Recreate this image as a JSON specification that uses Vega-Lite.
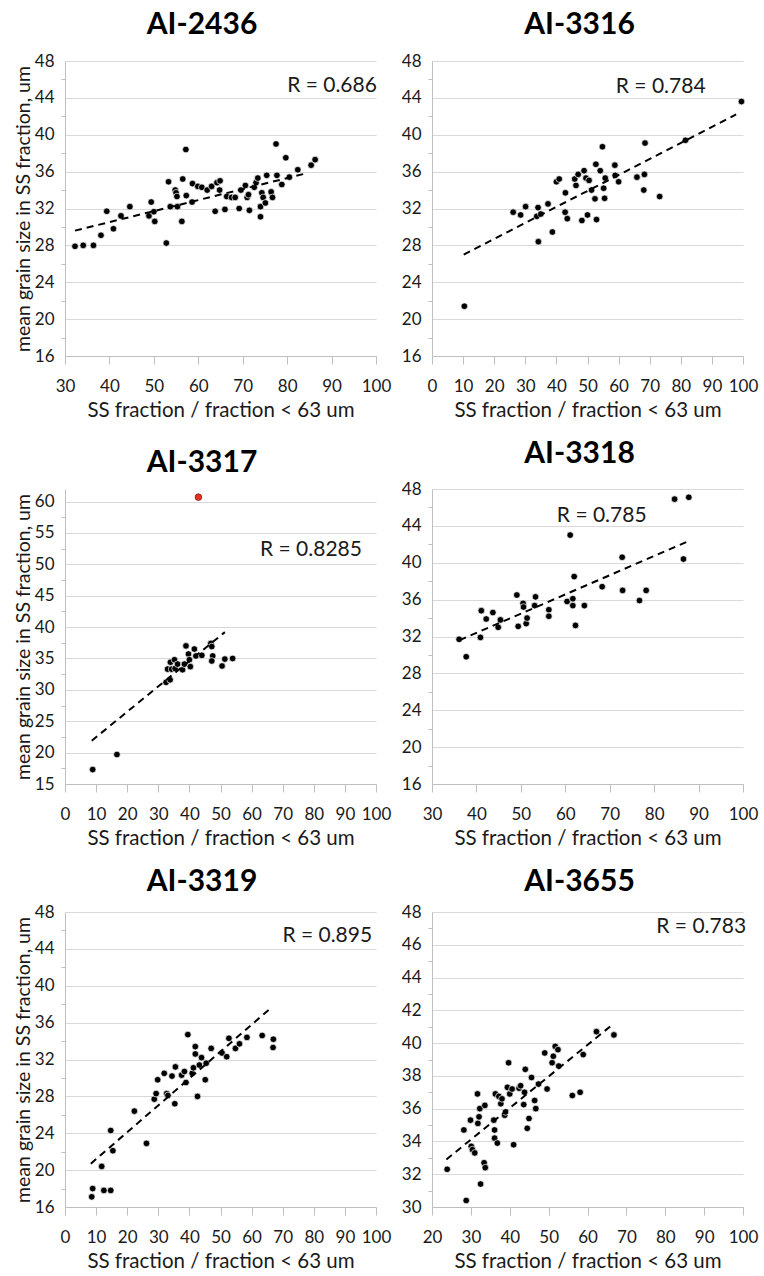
{
"$schema": "https://vega.github.io/schema/vega-lite/v6.json",
"padding": {"left": 13, "top": 10, "right": 5, "bottom": 5},
"background": "#ffffff",
"datasets": {
"pts": [
{"p":"AI-2436","x":32.25,"y":27.9},{"p":"AI-2436","x":34.1,"y":28.0},{"p":"AI-2436","x":36.4,"y":28.0},{"p":"AI-2436","x":38.1,"y":29.1},{"p":"AI-2436","x":39.4,"y":31.7},{"p":"AI-2436","x":40.9,"y":29.8},{"p":"AI-2436","x":42.6,"y":31.2},{"p":"AI-2436","x":44.6,"y":32.2},{"p":"AI-2436","x":48.9,"y":31.2},{"p":"AI-2436","x":49.4,"y":32.7},{"p":"AI-2436","x":50.0,"y":31.65},{"p":"AI-2436","x":50.2,"y":30.6},{"p":"AI-2436","x":52.8,"y":28.25},{"p":"AI-2436","x":53.3,"y":34.9},{"p":"AI-2436","x":53.7,"y":32.2},{"p":"AI-2436","x":54.8,"y":34.0},{"p":"AI-2436","x":55.0,"y":33.7},{"p":"AI-2436","x":55.3,"y":32.2},{"p":"AI-2436","x":55.2,"y":33.3},{"p":"AI-2436","x":56.3,"y":30.6},{"p":"AI-2436","x":56.5,"y":35.2},{"p":"AI-2436","x":57.2,"y":38.4},{"p":"AI-2436","x":57.3,"y":33.4},{"p":"AI-2436","x":58.6,"y":32.7},{"p":"AI-2436","x":58.7,"y":34.7},{"p":"AI-2436","x":59.9,"y":34.4},{"p":"AI-2436","x":60.8,"y":34.3},{"p":"AI-2436","x":62.0,"y":34.0},{"p":"AI-2436","x":63.0,"y":34.4},{"p":"AI-2436","x":63.8,"y":31.7},{"p":"AI-2436","x":64.2,"y":34.8},{"p":"AI-2436","x":64.9,"y":35.0},{"p":"AI-2436","x":64.8,"y":34.0},{"p":"AI-2436","x":66.0,"y":31.9},{"p":"AI-2436","x":66.4,"y":33.3},{"p":"AI-2436","x":67.5,"y":33.2},{"p":"AI-2436","x":68.3,"y":33.2},{"p":"AI-2436","x":69.2,"y":32.0},{"p":"AI-2436","x":69.6,"y":34.0},{"p":"AI-2436","x":70.6,"y":34.5},{"p":"AI-2436","x":71.0,"y":33.2},{"p":"AI-2436","x":71.5,"y":31.8},{"p":"AI-2436","x":71.3,"y":33.5},{"p":"AI-2436","x":72.6,"y":34.3},{"p":"AI-2436","x":73.0,"y":34.8},{"p":"AI-2436","x":73.4,"y":35.3},{"p":"AI-2436","x":74.0,"y":31.1},{"p":"AI-2436","x":74.0,"y":32.2},{"p":"AI-2436","x":74.3,"y":33.7},{"p":"AI-2436","x":74.6,"y":33.2},{"p":"AI-2436","x":75.1,"y":32.6},{"p":"AI-2436","x":75.4,"y":35.6},{"p":"AI-2436","x":76.4,"y":33.8},{"p":"AI-2436","x":76.7,"y":33.2},{"p":"AI-2436","x":77.5,"y":39.0},{"p":"AI-2436","x":77.7,"y":35.6},{"p":"AI-2436","x":78.8,"y":34.6},{"p":"AI-2436","x":79.7,"y":37.5},{"p":"AI-2436","x":80.5,"y":35.4},{"p":"AI-2436","x":82.4,"y":36.2},{"p":"AI-2436","x":85.4,"y":36.7},{"p":"AI-2436","x":86.3,"y":37.3},
{"p":"AI-3316","x":10.4,"y":21.4},{"p":"AI-3316","x":26.1,"y":31.6},{"p":"AI-3316","x":28.5,"y":31.3},{"p":"AI-3316","x":30.1,"y":32.2},{"p":"AI-3316","x":33.7,"y":31.15},{"p":"AI-3316","x":34.1,"y":32.1},{"p":"AI-3316","x":34.2,"y":28.4},{"p":"AI-3316","x":35.0,"y":31.4},{"p":"AI-3316","x":37.3,"y":32.5},{"p":"AI-3316","x":38.7,"y":29.45},{"p":"AI-3316","x":40.0,"y":34.9},{"p":"AI-3316","x":40.9,"y":35.2},{"p":"AI-3316","x":42.8,"y":31.6},{"p":"AI-3316","x":42.9,"y":33.7},{"p":"AI-3316","x":43.5,"y":30.9},{"p":"AI-3316","x":45.9,"y":35.2},{"p":"AI-3316","x":46.3,"y":34.5},{"p":"AI-3316","x":47.0,"y":35.7},{"p":"AI-3316","x":48.2,"y":30.7},{"p":"AI-3316","x":48.9,"y":36.1},{"p":"AI-3316","x":49.5,"y":35.3},{"p":"AI-3316","x":50.0,"y":31.3},{"p":"AI-3316","x":50.5,"y":35.05},{"p":"AI-3316","x":51.3,"y":34.0},{"p":"AI-3316","x":52.4,"y":33.05},{"p":"AI-3316","x":52.7,"y":36.8},{"p":"AI-3316","x":52.9,"y":30.8},{"p":"AI-3316","x":54.1,"y":36.1},{"p":"AI-3316","x":54.8,"y":38.7},{"p":"AI-3316","x":55.2,"y":34.2},{"p":"AI-3316","x":55.5,"y":33.1},{"p":"AI-3316","x":55.7,"y":35.3},{"p":"AI-3316","x":58.8,"y":36.7},{"p":"AI-3316","x":58.9,"y":35.6},{"p":"AI-3316","x":60.0,"y":34.9},{"p":"AI-3316","x":65.9,"y":35.4},{"p":"AI-3316","x":68.3,"y":35.7},{"p":"AI-3316","x":68.1,"y":34.0},{"p":"AI-3316","x":68.5,"y":39.1},{"p":"AI-3316","x":73.2,"y":33.3},{"p":"AI-3316","x":81.5,"y":39.4},{"p":"AI-3316","x":99.5,"y":43.6},
{"p":"AI-3317","x":42.9,"y":60.7,"k":"red"},{"p":"AI-3317","x":8.9,"y":17.3},{"p":"AI-3317","x":16.7,"y":19.7},{"p":"AI-3317","x":32.5,"y":31.2},{"p":"AI-3317","x":33.8,"y":31.6},{"p":"AI-3317","x":33.0,"y":33.3},{"p":"AI-3317","x":33.9,"y":34.4},{"p":"AI-3317","x":34.3,"y":33.3},{"p":"AI-3317","x":35.2,"y":34.8},{"p":"AI-3317","x":35.4,"y":33.4},{"p":"AI-3317","x":36.2,"y":34.1},{"p":"AI-3317","x":37.8,"y":33.2},{"p":"AI-3317","x":38.4,"y":34.1},{"p":"AI-3317","x":38.9,"y":37.0},{"p":"AI-3317","x":39.7,"y":35.7},{"p":"AI-3317","x":40.0,"y":34.8},{"p":"AI-3317","x":40.3,"y":33.7},{"p":"AI-3317","x":41.6,"y":36.5},{"p":"AI-3317","x":42.1,"y":35.4},{"p":"AI-3317","x":44.0,"y":35.5},{"p":"AI-3317","x":46.9,"y":37.4},{"p":"AI-3317","x":47.2,"y":36.9},{"p":"AI-3317","x":47.5,"y":35.4},{"p":"AI-3317","x":47.2,"y":34.6},{"p":"AI-3317","x":50.5,"y":33.8},{"p":"AI-3317","x":51.4,"y":34.9},{"p":"AI-3317","x":53.9,"y":35.0},
{"p":"AI-3318","x":36.1,"y":31.7},{"p":"AI-3318","x":37.7,"y":29.8},{"p":"AI-3318","x":40.9,"y":31.9},{"p":"AI-3318","x":41.1,"y":34.8},{"p":"AI-3318","x":42.2,"y":33.9},{"p":"AI-3318","x":43.7,"y":34.6},{"p":"AI-3318","x":44.9,"y":33.0},{"p":"AI-3318","x":45.4,"y":33.8},{"p":"AI-3318","x":49.1,"y":36.5},{"p":"AI-3318","x":49.4,"y":33.1},{"p":"AI-3318","x":50.5,"y":35.6},{"p":"AI-3318","x":50.6,"y":35.2},{"p":"AI-3318","x":51.2,"y":33.4},{"p":"AI-3318","x":51.4,"y":34.0},{"p":"AI-3318","x":53.3,"y":36.3},{"p":"AI-3318","x":53.1,"y":35.35},{"p":"AI-3318","x":56.3,"y":34.9},{"p":"AI-3318","x":56.3,"y":34.2},{"p":"AI-3318","x":60.4,"y":35.8},{"p":"AI-3318","x":61.1,"y":43.0},{"p":"AI-3318","x":61.7,"y":36.1},{"p":"AI-3318","x":61.7,"y":35.35},{"p":"AI-3318","x":62.0,"y":38.5},{"p":"AI-3318","x":62.3,"y":33.2},{"p":"AI-3318","x":64.3,"y":35.35},{"p":"AI-3318","x":68.3,"y":37.4},{"p":"AI-3318","x":72.8,"y":40.6},{"p":"AI-3318","x":72.9,"y":37.0},{"p":"AI-3318","x":76.7,"y":35.9},{"p":"AI-3318","x":78.2,"y":37.0},{"p":"AI-3318","x":84.6,"y":46.9},{"p":"AI-3318","x":86.6,"y":40.4},{"p":"AI-3318","x":87.8,"y":47.1},
{"p":"AI-3319","x":8.6,"y":17.1},{"p":"AI-3319","x":8.9,"y":18.0},{"p":"AI-3319","x":11.8,"y":20.4},{"p":"AI-3319","x":12.5,"y":17.8},{"p":"AI-3319","x":14.7,"y":17.8},{"p":"AI-3319","x":14.7,"y":24.3},{"p":"AI-3319","x":15.4,"y":22.1},{"p":"AI-3319","x":22.3,"y":26.4},{"p":"AI-3319","x":26.2,"y":22.9},{"p":"AI-3319","x":28.7,"y":27.7},{"p":"AI-3319","x":29.3,"y":28.3},{"p":"AI-3319","x":29.8,"y":29.8},{"p":"AI-3319","x":31.9,"y":30.5},{"p":"AI-3319","x":32.7,"y":28.3},{"p":"AI-3319","x":33.1,"y":28.1},{"p":"AI-3319","x":34.4,"y":30.2},{"p":"AI-3319","x":35.3,"y":27.2},{"p":"AI-3319","x":35.5,"y":31.2},{"p":"AI-3319","x":37.5,"y":30.3},{"p":"AI-3319","x":38.4,"y":30.7},{"p":"AI-3319","x":38.9,"y":29.5},{"p":"AI-3319","x":39.5,"y":34.7},{"p":"AI-3319","x":40.9,"y":30.5},{"p":"AI-3319","x":41.3,"y":31.1},{"p":"AI-3319","x":41.9,"y":33.4},{"p":"AI-3319","x":41.9,"y":32.6},{"p":"AI-3319","x":42.6,"y":28.0},{"p":"AI-3319","x":43.2,"y":31.4},{"p":"AI-3319","x":43.9,"y":32.2},{"p":"AI-3319","x":45.1,"y":29.8},{"p":"AI-3319","x":45.4,"y":31.6},{"p":"AI-3319","x":47.0,"y":33.2},{"p":"AI-3319","x":50.5,"y":32.7},{"p":"AI-3319","x":52.0,"y":32.3},{"p":"AI-3319","x":52.7,"y":34.3},{"p":"AI-3319","x":54.8,"y":33.2},{"p":"AI-3319","x":56.1,"y":33.7},{"p":"AI-3319","x":58.5,"y":34.4},{"p":"AI-3319","x":63.4,"y":34.6},{"p":"AI-3319","x":66.9,"y":33.3},{"p":"AI-3319","x":67.0,"y":34.2},
{"p":"AI-3655","x":23.9,"y":32.3},{"p":"AI-3655","x":28.2,"y":34.7},{"p":"AI-3655","x":28.8,"y":30.4},{"p":"AI-3655","x":29.9,"y":35.3},{"p":"AI-3655","x":30.1,"y":33.7},{"p":"AI-3655","x":30.4,"y":33.5},{"p":"AI-3655","x":31.0,"y":33.3},{"p":"AI-3655","x":31.7,"y":36.9},{"p":"AI-3655","x":31.8,"y":35.1},{"p":"AI-3655","x":32.1,"y":35.5},{"p":"AI-3655","x":32.3,"y":36.0},{"p":"AI-3655","x":32.5,"y":31.4},{"p":"AI-3655","x":33.4,"y":32.7},{"p":"AI-3655","x":33.6,"y":36.2},{"p":"AI-3655","x":33.7,"y":32.4},{"p":"AI-3655","x":35.9,"y":35.3},{"p":"AI-3655","x":36.1,"y":34.7},{"p":"AI-3655","x":36.1,"y":34.2},{"p":"AI-3655","x":36.3,"y":36.9},{"p":"AI-3655","x":36.8,"y":33.9},{"p":"AI-3655","x":37.2,"y":36.75},{"p":"AI-3655","x":37.7,"y":36.3},{"p":"AI-3655","x":38.0,"y":36.6},{"p":"AI-3655","x":38.7,"y":35.6},{"p":"AI-3655","x":38.9,"y":35.8},{"p":"AI-3655","x":39.4,"y":37.3},{"p":"AI-3655","x":39.7,"y":38.8},{"p":"AI-3655","x":40.0,"y":36.9},{"p":"AI-3655","x":40.6,"y":37.2},{"p":"AI-3655","x":41.0,"y":33.8},{"p":"AI-3655","x":42.4,"y":37.25},{"p":"AI-3655","x":42.8,"y":37.4},{"p":"AI-3655","x":43.6,"y":36.25},{"p":"AI-3655","x":43.8,"y":37.0},{"p":"AI-3655","x":44.0,"y":38.4},{"p":"AI-3655","x":44.5,"y":34.8},{"p":"AI-3655","x":44.95,"y":35.4},{"p":"AI-3655","x":45.6,"y":37.9},{"p":"AI-3655","x":46.4,"y":36.5},{"p":"AI-3655","x":46.7,"y":36.0},{"p":"AI-3655","x":47.4,"y":37.5},{"p":"AI-3655","x":49.6,"y":37.2},{"p":"AI-3655","x":49.0,"y":39.4},{"p":"AI-3655","x":50.9,"y":38.8},{"p":"AI-3655","x":51.2,"y":39.2},{"p":"AI-3655","x":51.7,"y":39.8},{"p":"AI-3655","x":52.4,"y":39.6},{"p":"AI-3655","x":52.6,"y":38.6},{"p":"AI-3655","x":56.1,"y":36.8},{"p":"AI-3655","x":58.1,"y":37.0},{"p":"AI-3655","x":58.9,"y":39.3},{"p":"AI-3655","x":62.3,"y":40.7},{"p":"AI-3655","x":66.8,"y":40.5}
],
"trend": [
{"p":"AI-2436","x":32.25,"y":29.6},{"p":"AI-2436","x":84.2,"y":35.8},
{"p":"AI-3316","x":10.2,"y":27.0},{"p":"AI-3316","x":97.8,"y":42.2},
{"p":"AI-3317","x":8.6,"y":21.9},{"p":"AI-3317","x":51.4,"y":39.2},
{"p":"AI-3318","x":36.2,"y":31.6},{"p":"AI-3318","x":88.0,"y":42.4},
{"p":"AI-3319","x":8.3,"y":20.7},{"p":"AI-3319","x":66.6,"y":37.7},
{"p":"AI-3655","x":23.7,"y":32.9},{"p":"AI-3655","x":66.8,"y":41.2}
],
"rlab": [
{"p":"AI-2436","x":80.0,"y":45.3,"r":"R = 0.686"},
{"p":"AI-3316","x":59.1,"y":45.2,"r":"R = 0.784"},
{"p":"AI-3317","x":62.7,"y":52.3,"r":"R = 0.8285"},
{"p":"AI-3318","x":58.1,"y":45.1,"r":"R = 0.785"},
{"p":"AI-3319","x":69.9,"y":45.4,"r":"R = 0.895"},
{"p":"AI-3655","x":77.7,"y":47.1,"r":"R = 0.783"}
]
},
"columns": 2,
"spacing": {"row": 18, "column": 10},
"concat": [
{"title": {"text": "AI-2436", "offset": 12}, "width": 311, "height": 295,
 "encoding": {
  "x": {"field": "x", "type": "quantitative", "scale": {"domain": [30, 100], "nice": false, "zero": false}, "axis": {"title": "SS fraction / fraction < 63 um", "values": [30,40,50,60,70,80,90,100]}},
  "y": {"field": "y", "type": "quantitative", "scale": {"domain": [16, 48], "nice": false, "zero": false}, "axis": {"title": "mean grain size in SS fraction, um", "values": [16,18,20,22,24,26,28,30,32,34,36,38,40,42,44,46,48], "labelExpr": "datum.value % 4 === 0 ? datum.label : ''", "gridOpacity": {"condition": {"test": "datum.value % 4 === 0", "value": 1}, "value": 0}, "tickOpacity": {"condition": {"test": "datum.value % 4 === 0", "value": 0}, "value": 1}}}
 },
 "layer": [
  {"data": {"name": "pts"}, "transform": [{"filter": "datum.p === 'AI-2436'"}], "mark": {"type": "circle", "size": 44, "opacity": 1, "strokeWidth": 0.7}, "encoding": {"color": {"condition": {"test": "datum.k === 'red'", "value": "#e5321f"}, "value": "#000000"}, "stroke": {"condition": {"test": "datum.k === 'red'", "value": "#6b1a10"}, "value": "#ffffff"}}},
  {"data": {"name": "trend"}, "transform": [{"filter": "datum.p === 'AI-2436'"}], "mark": {"type": "line", "color": "#000000", "strokeWidth": 2, "strokeDash": [7, 5]}, "encoding": {}},
  {"data": {"name": "rlab"}, "transform": [{"filter": "datum.p === 'AI-2436'"}], "mark": {"type": "text", "align": "left", "baseline": "middle", "fontSize": 21, "font": "Lato", "color": "#1a1a1a"}, "encoding": {"text": {"field": "r"}}}
 ]},
{"title": {"text": "AI-3316", "offset": 12}, "width": 311, "height": 295,
 "encoding": {
  "x": {"field": "x", "type": "quantitative", "scale": {"domain": [0, 100], "nice": false, "zero": false}, "axis": {"title": "SS fraction / fraction < 63 um", "values": [0,10,20,30,40,50,60,70,80,90,100]}},
  "y": {"field": "y", "type": "quantitative", "scale": {"domain": [16, 48], "nice": false, "zero": false}, "axis": {"title": null, "values": [16,18,20,22,24,26,28,30,32,34,36,38,40,42,44,46,48], "labelExpr": "datum.value % 4 === 0 ? datum.label : ''", "gridOpacity": {"condition": {"test": "datum.value % 4 === 0", "value": 1}, "value": 0}, "tickOpacity": {"condition": {"test": "datum.value % 4 === 0", "value": 0}, "value": 1}}}
 },
 "layer": [
  {"data": {"name": "pts"}, "transform": [{"filter": "datum.p === 'AI-3316'"}], "mark": {"type": "circle", "size": 44, "opacity": 1, "strokeWidth": 0.7}, "encoding": {"color": {"condition": {"test": "datum.k === 'red'", "value": "#e5321f"}, "value": "#000000"}, "stroke": {"condition": {"test": "datum.k === 'red'", "value": "#6b1a10"}, "value": "#ffffff"}}},
  {"data": {"name": "trend"}, "transform": [{"filter": "datum.p === 'AI-3316'"}], "mark": {"type": "line", "color": "#000000", "strokeWidth": 2, "strokeDash": [7, 5]}, "encoding": {}},
  {"data": {"name": "rlab"}, "transform": [{"filter": "datum.p === 'AI-3316'"}], "mark": {"type": "text", "align": "left", "baseline": "middle", "fontSize": 21, "font": "Lato", "color": "#1a1a1a"}, "encoding": {"text": {"field": "r"}}}
 ]},
{"title": {"text": "AI-3317", "offset": 11}, "width": 311, "height": 295,
 "encoding": {
  "x": {"field": "x", "type": "quantitative", "scale": {"domain": [0, 100], "nice": false, "zero": false}, "axis": {"title": "SS fraction / fraction < 63 um", "values": [0,10,20,30,40,50,60,70,80,90,100]}},
  "y": {"field": "y", "type": "quantitative", "scale": {"domain": [15, 62], "nice": false, "zero": false}, "axis": {"title": "mean grain size in SS fraction, um", "values": [15,17.5,20,22.5,25,27.5,30,32.5,35,37.5,40,42.5,45,47.5,50,52.5,55,57.5,60], "labelExpr": "datum.value % 5 === 0 ? datum.label : ''", "gridOpacity": {"condition": {"test": "datum.value % 5 === 0", "value": 1}, "value": 0}, "tickOpacity": {"condition": {"test": "datum.value % 5 === 0", "value": 0}, "value": 1}}}
 },
 "layer": [
  {"data": {"name": "pts"}, "transform": [{"filter": "datum.p === 'AI-3317'"}], "mark": {"type": "circle", "size": 44, "opacity": 1, "strokeWidth": 0.7}, "encoding": {"color": {"condition": {"test": "datum.k === 'red'", "value": "#e5321f"}, "value": "#000000"}, "stroke": {"condition": {"test": "datum.k === 'red'", "value": "#6b1a10"}, "value": "#ffffff"}}},
  {"data": {"name": "trend"}, "transform": [{"filter": "datum.p === 'AI-3317'"}], "mark": {"type": "line", "color": "#000000", "strokeWidth": 2, "strokeDash": [7, 5]}, "encoding": {}},
  {"data": {"name": "rlab"}, "transform": [{"filter": "datum.p === 'AI-3317'"}], "mark": {"type": "text", "align": "left", "baseline": "middle", "fontSize": 21, "font": "Lato", "color": "#1a1a1a"}, "encoding": {"text": {"field": "r"}}}
 ]},
{"title": {"text": "AI-3318", "offset": 11}, "width": 311, "height": 295,
 "encoding": {
  "x": {"field": "x", "type": "quantitative", "scale": {"domain": [30, 100], "nice": false, "zero": false}, "axis": {"title": "SS fraction / fraction < 63 um", "values": [30,40,50,60,70,80,90,100]}},
  "y": {"field": "y", "type": "quantitative", "scale": {"domain": [16, 48], "nice": false, "zero": false}, "axis": {"title": null, "values": [16,18,20,22,24,26,28,30,32,34,36,38,40,42,44,46,48], "labelExpr": "datum.value % 4 === 0 ? datum.label : ''", "gridOpacity": {"condition": {"test": "datum.value % 4 === 0", "value": 1}, "value": 0}, "tickOpacity": {"condition": {"test": "datum.value % 4 === 0", "value": 0}, "value": 1}}}
 },
 "layer": [
  {"data": {"name": "pts"}, "transform": [{"filter": "datum.p === 'AI-3318'"}], "mark": {"type": "circle", "size": 44, "opacity": 1, "strokeWidth": 0.7}, "encoding": {"color": {"condition": {"test": "datum.k === 'red'", "value": "#e5321f"}, "value": "#000000"}, "stroke": {"condition": {"test": "datum.k === 'red'", "value": "#6b1a10"}, "value": "#ffffff"}}},
  {"data": {"name": "trend"}, "transform": [{"filter": "datum.p === 'AI-3318'"}], "mark": {"type": "line", "color": "#000000", "strokeWidth": 2, "strokeDash": [7, 5]}, "encoding": {}},
  {"data": {"name": "rlab"}, "transform": [{"filter": "datum.p === 'AI-3318'"}], "mark": {"type": "text", "align": "left", "baseline": "middle", "fontSize": 21, "font": "Lato", "color": "#1a1a1a"}, "encoding": {"text": {"field": "r"}}}
 ]},
{"title": {"text": "AI-3319", "offset": 6}, "width": 311, "height": 295,
 "encoding": {
  "x": {"field": "x", "type": "quantitative", "scale": {"domain": [0, 100], "nice": false, "zero": false}, "axis": {"title": "SS fraction / fraction < 63 um", "values": [0,10,20,30,40,50,60,70,80,90,100]}},
  "y": {"field": "y", "type": "quantitative", "scale": {"domain": [16, 48], "nice": false, "zero": false}, "axis": {"title": "mean grain size in SS fraction, um", "values": [16,18,20,22,24,26,28,30,32,34,36,38,40,42,44,46,48], "labelExpr": "datum.value % 4 === 0 ? datum.label : ''", "gridOpacity": {"condition": {"test": "datum.value % 4 === 0", "value": 1}, "value": 0}, "tickOpacity": {"condition": {"test": "datum.value % 4 === 0", "value": 0}, "value": 1}}}
 },
 "layer": [
  {"data": {"name": "pts"}, "transform": [{"filter": "datum.p === 'AI-3319'"}], "mark": {"type": "circle", "size": 44, "opacity": 1, "strokeWidth": 0.7}, "encoding": {"color": {"condition": {"test": "datum.k === 'red'", "value": "#e5321f"}, "value": "#000000"}, "stroke": {"condition": {"test": "datum.k === 'red'", "value": "#6b1a10"}, "value": "#ffffff"}}},
  {"data": {"name": "trend"}, "transform": [{"filter": "datum.p === 'AI-3319'"}], "mark": {"type": "line", "color": "#000000", "strokeWidth": 2, "strokeDash": [7, 5]}, "encoding": {}},
  {"data": {"name": "rlab"}, "transform": [{"filter": "datum.p === 'AI-3319'"}], "mark": {"type": "text", "align": "left", "baseline": "middle", "fontSize": 21, "font": "Lato", "color": "#1a1a1a"}, "encoding": {"text": {"field": "r"}}}
 ]},
{"title": {"text": "AI-3655", "offset": 6}, "width": 311, "height": 295,
 "encoding": {
  "x": {"field": "x", "type": "quantitative", "scale": {"domain": [20, 100], "nice": false, "zero": false}, "axis": {"title": "SS fraction / fraction < 63 um", "values": [20,30,40,50,60,70,80,90,100]}},
  "y": {"field": "y", "type": "quantitative", "scale": {"domain": [30, 48], "nice": false, "zero": false}, "axis": {"title": null, "values": [30,31,32,33,34,35,36,37,38,39,40,41,42,43,44,45,46,47,48], "labelExpr": "datum.value % 2 === 0 ? datum.label : ''", "gridOpacity": {"condition": {"test": "datum.value % 2 === 0", "value": 1}, "value": 0}, "tickOpacity": {"condition": {"test": "datum.value % 2 === 0", "value": 0}, "value": 1}}}
 },
 "layer": [
  {"data": {"name": "pts"}, "transform": [{"filter": "datum.p === 'AI-3655'"}], "mark": {"type": "circle", "size": 44, "opacity": 1, "strokeWidth": 0.7}, "encoding": {"color": {"condition": {"test": "datum.k === 'red'", "value": "#e5321f"}, "value": "#000000"}, "stroke": {"condition": {"test": "datum.k === 'red'", "value": "#6b1a10"}, "value": "#ffffff"}}},
  {"data": {"name": "trend"}, "transform": [{"filter": "datum.p === 'AI-3655'"}], "mark": {"type": "line", "color": "#000000", "strokeWidth": 2, "strokeDash": [7, 5]}, "encoding": {}},
  {"data": {"name": "rlab"}, "transform": [{"filter": "datum.p === 'AI-3655'"}], "mark": {"type": "text", "align": "left", "baseline": "middle", "fontSize": 21, "font": "Lato", "color": "#1a1a1a"}, "encoding": {"text": {"field": "r"}}}
 ]}
],
"config": {
 "view": {"stroke": null},
 "font": "Lato",
 "axisX": {"grid": false, "tickSize": 8, "labelPadding": 14, "titlePadding": 6, "titleFontSize": 20.5, "labelOverlap": false, "labelFlush": false},
 "axisY": {"tickSize": 4, "labelPadding": 7, "titlePadding": 1, "titleFontSize": 19.5, "labelOverlap": false},
 "axis": {"labelFont": "Lato", "labelFontSize": 17, "labelColor": "#1a1a1a", "titleFont": "Lato", "titleFontWeight": "normal", "titleColor": "#1a1a1a", "domainColor": "#bfbfbf", "tickColor": "#bfbfbf", "gridColor": "#d9d9d9"},
 "title": {"font": "Lato", "fontSize": 30, "fontWeight": "bold", "color": "#000000", "frame": "bounds", "anchor": "middle"}
}
}
